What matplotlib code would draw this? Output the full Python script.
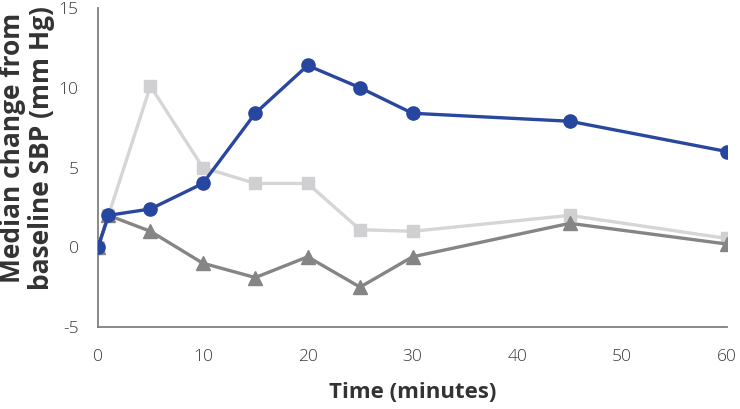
import matplotlib
matplotlib.use("Agg")
from matplotlib import pyplot as plt

# minutes after dose
time_min = [0, 1, 5, 10, 15, 20, 25, 30, 45, 60]

# median change from baseline SBP (mm Hg)
blue_sbp = [0, 2.0, 2.4, 4.0, 8.4, 11.4, 10.0, 8.4, 7.9, 6.0]
light_sbp = [0, 2.0, 10.1, 5.0, 4.0, 4.0, 1.1, 1.0, 2.0, 0.55]
dark_sbp = [0, 2.0, 1.0, -1.0, -1.9, -0.6, -2.5, -0.6, 1.5, 0.2]

x_ticks = [0, 10, 20, 30, 40, 50, 60]
y_ticks = [-5, 0, 5, 10, 15]

plt.rcParams['font.family'] = ['Open Sans', 'DejaVu Sans']
plt.rcParams['axes.unicode_minus'] = False

fig = plt.figure(figsize=(7.4, 4.09), dpi=100)
ax = fig.add_axes([98 / 740, 82 / 409, 629 / 740, 319 / 409])

ax.plot(time_min, light_sbp, color='#d6d6d6', linewidth=2.4, marker='s',
        markersize=9, markerfacecolor='#d0d0d2', markeredgecolor='#d0d0d2', zorder=2)
ax.plot(time_min, dark_sbp, color='#858585', linewidth=2.4, marker='^',
        markersize=10, markerfacecolor='#858585', markeredgecolor='#858585', zorder=3)
ax.plot(time_min, blue_sbp, color='#2a47a0', linewidth=2.4, marker='o',
        markersize=9.5, markerfacecolor='#2746a0', markeredgecolor='#2746a0', zorder=4)

ax.set_xlim(0, 60)
ax.set_ylim(-5, 15)
ax.set_xticks(x_ticks)
ax.set_yticks(y_ticks)

for side in ['top', 'right']:
    ax.spines[side].set_visible(False)
for side in ['left', 'bottom']:
    ax.spines[side].set_color('#808080')
    ax.spines[side].set_linewidth(1.3)
    ax.spines[side].set_zorder(1)

ax.tick_params(axis='both', length=0, labelsize=12.5, colors='#3a3a3a')
ax.tick_params(axis='x', pad=16)
ax.tick_params(axis='y', pad=14)
for lbl in ax.get_xticklabels() + ax.get_yticklabels():
    lbl.set_fontweight('light')

ax.set_xlabel("Time (minutes)", fontsize=16, fontweight='bold', color='#333333', labelpad=12)
ax.set_ylabel("Median change from\nbaseline SBP (mm Hg)", fontsize=19, fontweight='bold',
              color='#333333', linespacing=1.12)
ax.yaxis.set_label_coords(-0.068, 0.561)

fig.savefig("out.png", dpi=100)
